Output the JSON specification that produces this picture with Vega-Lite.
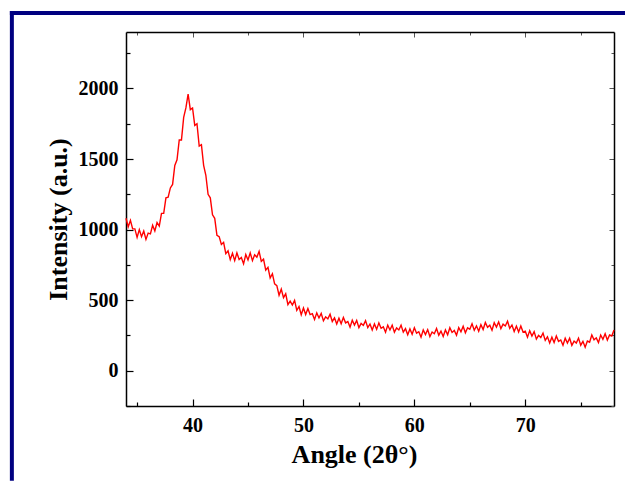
{
  "$schema": "https://vega.github.io/schema/vega-lite/v6.json",
  "width": 488,
  "height": 374,
  "autosize": {"type": "none"},
  "padding": {"left": 126, "top": 32, "right": 11, "bottom": 75},
  "background": "white",
  "config": {"view": {"stroke": null}, "font": "Liberation Serif"},
  "data": {"values": [
    {"angle": 34.0, "intensity": 1080}, {"angle": 34.2, "intensity": 1020}, {"angle": 34.4, "intensity": 1065}, {"angle": 34.6, "intensity": 1005},
    {"angle": 34.8, "intensity": 1005}, {"angle": 35.0, "intensity": 945}, {"angle": 35.2, "intensity": 1000}, {"angle": 35.4, "intensity": 950},
    {"angle": 35.6, "intensity": 990}, {"angle": 35.8, "intensity": 930}, {"angle": 36.0, "intensity": 975}, {"angle": 36.2, "intensity": 970},
    {"angle": 36.4, "intensity": 1030}, {"angle": 36.6, "intensity": 990}, {"angle": 36.8, "intensity": 1050}, {"angle": 37.0, "intensity": 1025},
    {"angle": 37.2, "intensity": 1115}, {"angle": 37.4, "intensity": 1115}, {"angle": 37.6, "intensity": 1225}, {"angle": 37.8, "intensity": 1230},
    {"angle": 38.0, "intensity": 1295}, {"angle": 38.2, "intensity": 1320}, {"angle": 38.4, "intensity": 1455}, {"angle": 38.6, "intensity": 1495},
    {"angle": 38.8, "intensity": 1635}, {"angle": 39.0, "intensity": 1635}, {"angle": 39.2, "intensity": 1795}, {"angle": 39.4, "intensity": 1862},
    {"angle": 39.6, "intensity": 1960}, {"angle": 39.8, "intensity": 1850}, {"angle": 40.0, "intensity": 1862}, {"angle": 40.2, "intensity": 1738},
    {"angle": 40.4, "intensity": 1750}, {"angle": 40.6, "intensity": 1592}, {"angle": 40.8, "intensity": 1602}, {"angle": 41.0, "intensity": 1455},
    {"angle": 41.2, "intensity": 1385}, {"angle": 41.4, "intensity": 1250}, {"angle": 41.6, "intensity": 1225}, {"angle": 41.8, "intensity": 1105},
    {"angle": 42.0, "intensity": 1080}, {"angle": 42.2, "intensity": 960}, {"angle": 42.4, "intensity": 950}, {"angle": 42.6, "intensity": 895},
    {"angle": 42.8, "intensity": 910}, {"angle": 43.0, "intensity": 830}, {"angle": 43.2, "intensity": 850}, {"angle": 43.4, "intensity": 787},
    {"angle": 43.6, "intensity": 832}, {"angle": 43.8, "intensity": 780}, {"angle": 44.0, "intensity": 835}, {"angle": 44.2, "intensity": 788},
    {"angle": 44.4, "intensity": 802}, {"angle": 44.6, "intensity": 757}, {"angle": 44.8, "intensity": 823}, {"angle": 45.0, "intensity": 785},
    {"angle": 45.2, "intensity": 835}, {"angle": 45.4, "intensity": 780}, {"angle": 45.6, "intensity": 822}, {"angle": 45.8, "intensity": 805},
    {"angle": 46.0, "intensity": 845}, {"angle": 46.2, "intensity": 775}, {"angle": 46.4, "intensity": 790}, {"angle": 46.6, "intensity": 713},
    {"angle": 46.8, "intensity": 732}, {"angle": 47.0, "intensity": 657}, {"angle": 47.2, "intensity": 687}, {"angle": 47.4, "intensity": 615},
    {"angle": 47.6, "intensity": 603}, {"angle": 47.8, "intensity": 535}, {"angle": 48.0, "intensity": 578}, {"angle": 48.2, "intensity": 518},
    {"angle": 48.4, "intensity": 545}, {"angle": 48.6, "intensity": 468}, {"angle": 48.8, "intensity": 493}, {"angle": 49.0, "intensity": 465},
    {"angle": 49.2, "intensity": 498}, {"angle": 49.4, "intensity": 428}, {"angle": 49.6, "intensity": 455}, {"angle": 49.8, "intensity": 397},
    {"angle": 50.0, "intensity": 445}, {"angle": 50.2, "intensity": 398}, {"angle": 50.4, "intensity": 440}, {"angle": 50.6, "intensity": 398},
    {"angle": 50.8, "intensity": 404}, {"angle": 51.0, "intensity": 363}, {"angle": 51.2, "intensity": 410}, {"angle": 51.4, "intensity": 374},
    {"angle": 51.6, "intensity": 406}, {"angle": 51.8, "intensity": 354}, {"angle": 52.0, "intensity": 382}, {"angle": 52.2, "intensity": 367},
    {"angle": 52.4, "intensity": 400}, {"angle": 52.6, "intensity": 349}, {"angle": 52.8, "intensity": 374}, {"angle": 53.0, "intensity": 331},
    {"angle": 53.2, "intensity": 372}, {"angle": 53.4, "intensity": 333}, {"angle": 53.6, "intensity": 378}, {"angle": 53.8, "intensity": 339},
    {"angle": 54.0, "intensity": 348}, {"angle": 54.2, "intensity": 309}, {"angle": 54.4, "intensity": 358}, {"angle": 54.6, "intensity": 323},
    {"angle": 54.8, "intensity": 356}, {"angle": 55.0, "intensity": 305}, {"angle": 55.2, "intensity": 335}, {"angle": 55.4, "intensity": 321},
    {"angle": 55.6, "intensity": 355}, {"angle": 55.8, "intensity": 305}, {"angle": 56.0, "intensity": 331}, {"angle": 56.2, "intensity": 289},
    {"angle": 56.4, "intensity": 331}, {"angle": 56.6, "intensity": 293}, {"angle": 56.8, "intensity": 339}, {"angle": 57.0, "intensity": 301},
    {"angle": 57.2, "intensity": 311}, {"angle": 57.4, "intensity": 273}, {"angle": 57.6, "intensity": 323}, {"angle": 57.8, "intensity": 289},
    {"angle": 58.0, "intensity": 323}, {"angle": 58.2, "intensity": 273}, {"angle": 58.4, "intensity": 303}, {"angle": 58.6, "intensity": 289},
    {"angle": 58.8, "intensity": 323}, {"angle": 59.0, "intensity": 273}, {"angle": 59.2, "intensity": 298}, {"angle": 59.4, "intensity": 255},
    {"angle": 59.6, "intensity": 296}, {"angle": 59.8, "intensity": 258}, {"angle": 60.0, "intensity": 304}, {"angle": 60.2, "intensity": 266},
    {"angle": 60.4, "intensity": 276}, {"angle": 60.6, "intensity": 238}, {"angle": 60.8, "intensity": 289}, {"angle": 61.0, "intensity": 256},
    {"angle": 61.2, "intensity": 291}, {"angle": 61.4, "intensity": 242}, {"angle": 61.6, "intensity": 274}, {"angle": 61.8, "intensity": 262},
    {"angle": 62.0, "intensity": 299}, {"angle": 62.2, "intensity": 252}, {"angle": 62.4, "intensity": 281}, {"angle": 62.6, "intensity": 243},
    {"angle": 62.8, "intensity": 289}, {"angle": 63.0, "intensity": 255}, {"angle": 63.2, "intensity": 305}, {"angle": 63.4, "intensity": 271},
    {"angle": 63.6, "intensity": 285}, {"angle": 63.8, "intensity": 251}, {"angle": 64.0, "intensity": 306}, {"angle": 64.2, "intensity": 276},
    {"angle": 64.4, "intensity": 315}, {"angle": 64.6, "intensity": 269}, {"angle": 64.8, "intensity": 304}, {"angle": 65.0, "intensity": 294},
    {"angle": 65.2, "intensity": 333}, {"angle": 65.4, "intensity": 287}, {"angle": 65.6, "intensity": 318}, {"angle": 65.8, "intensity": 280},
    {"angle": 66.0, "intensity": 326}, {"angle": 66.2, "intensity": 292}, {"angle": 66.4, "intensity": 342}, {"angle": 66.6, "intensity": 308},
    {"angle": 66.8, "intensity": 322}, {"angle": 67.0, "intensity": 287}, {"angle": 67.2, "intensity": 340}, {"angle": 67.4, "intensity": 309},
    {"angle": 67.6, "intensity": 346}, {"angle": 67.8, "intensity": 298}, {"angle": 68.0, "intensity": 330}, {"angle": 68.2, "intensity": 317},
    {"angle": 68.4, "intensity": 351}, {"angle": 68.6, "intensity": 300}, {"angle": 68.8, "intensity": 324}, {"angle": 69.0, "intensity": 278},
    {"angle": 69.2, "intensity": 316}, {"angle": 69.4, "intensity": 274}, {"angle": 69.6, "intensity": 316}, {"angle": 69.8, "intensity": 274},
    {"angle": 70.0, "intensity": 280}, {"angle": 70.2, "intensity": 238}, {"angle": 70.4, "intensity": 284}, {"angle": 70.6, "intensity": 246},
    {"angle": 70.8, "intensity": 277}, {"angle": 71.0, "intensity": 224}, {"angle": 71.2, "intensity": 251}, {"angle": 71.4, "intensity": 235},
    {"angle": 71.6, "intensity": 267}, {"angle": 71.8, "intensity": 215}, {"angle": 72.0, "intensity": 240}, {"angle": 72.2, "intensity": 197},
    {"angle": 72.4, "intensity": 238}, {"angle": 72.6, "intensity": 200}, {"angle": 72.8, "intensity": 246}, {"angle": 73.0, "intensity": 208},
    {"angle": 73.2, "intensity": 218}, {"angle": 73.4, "intensity": 180}, {"angle": 73.6, "intensity": 230}, {"angle": 73.8, "intensity": 196},
    {"angle": 74.0, "intensity": 230}, {"angle": 74.2, "intensity": 180}, {"angle": 74.4, "intensity": 210}, {"angle": 74.6, "intensity": 196},
    {"angle": 74.8, "intensity": 231}, {"angle": 75.0, "intensity": 181}, {"angle": 75.2, "intensity": 208}, {"angle": 75.4, "intensity": 167},
    {"angle": 75.6, "intensity": 210}, {"angle": 75.8, "intensity": 202}, {"angle": 76.0, "intensity": 253}, {"angle": 76.2, "intensity": 219},
    {"angle": 76.4, "intensity": 233}, {"angle": 76.6, "intensity": 199}, {"angle": 76.8, "intensity": 253}, {"angle": 77.0, "intensity": 223},
    {"angle": 77.2, "intensity": 262}, {"angle": 77.4, "intensity": 217}, {"angle": 77.6, "intensity": 253}, {"angle": 77.8, "intensity": 246},
    {"angle": 78.0, "intensity": 288}
  ]},
  "layer": [
    {
      "data": {"values": [{}]},
      "mark": {"type": "rect", "color": "#000080", "clip": false},
      "encoding": {
        "x": {"datum": 23.53, "type": "quantitative", "scale": {"domain": [34, 78], "nice": false, "zero": false}, "axis": null},
        "x2": {"datum": 23.89},
        "y": {"datum": -780, "type": "quantitative", "scale": {"domain": [-250, 2400], "nice": false, "zero": false}, "axis": null},
        "y2": {"datum": 2548}
      }
    },
    {
      "data": {"values": [{}]},
      "mark": {"type": "rect", "color": "#000080", "clip": false},
      "encoding": {
        "x": {"datum": 23.53, "type": "quantitative", "scale": {"domain": [34, 78], "nice": false, "zero": false}, "axis": null},
        "x2": {"datum": 80},
        "y": {"datum": 2520, "type": "quantitative", "scale": {"domain": [-250, 2400], "nice": false, "zero": false}, "axis": null},
        "y2": {"datum": 2548}
      }
    },
    {
      "mark": {"type": "line", "color": "#ff0000", "strokeWidth": 1.4},
      "encoding": {
        "x": {
          "field": "angle", "type": "quantitative",
          "scale": {"domain": [34, 78], "nice": false, "zero": false},
          "axis": {
            "orient": "bottom",
            "values": [35, 40, 45, 50, 55, 60, 65, 70, 75],
            "labelExpr": "datum.value % 10 === 0 ? datum.label : ''",
            "tickSize": {"condition": {"test": "datum.value % 10 === 0", "value": -7}, "value": -4},
            "grid": false,
            "domainColor": "black", "domainWidth": 1.5,
            "tickColor": "black", "tickWidth": 1.2,
            "labelFont": "Liberation Serif", "labelFontWeight": "bold", "labelFontSize": 20, "labelColor": "black",
            "labelPadding": 16,
            "title": "Angle (2θ°)",
            "titleFont": "Liberation Serif", "titleFontWeight": "bold", "titleFontSize": 26, "titleColor": "black",
            "titleX": 228, "titleY": 56, "titleBaseline": "alphabetic", "titleAlign": "center"
          }
        },
        "y": {
          "field": "intensity", "type": "quantitative",
          "scale": {"domain": [-250, 2400], "nice": false, "zero": false},
          "axis": {
            "orient": "left",
            "values": [-250, 0, 250, 500, 750, 1000, 1250, 1500, 1750, 2000, 2250],
            "format": "d",
            "labelExpr": "datum.value % 500 === 0 ? datum.label : ''",
            "tickSize": {"condition": {"test": "datum.value % 500 === 0", "value": -7}, "value": -4},
            "grid": false,
            "domainColor": "black", "domainWidth": 1.5,
            "tickColor": "black", "tickWidth": 1.2,
            "labelFont": "Liberation Serif", "labelFontWeight": "bold", "labelFontSize": 20, "labelColor": "black",
            "labelPadding": 15,
            "title": "Intensity (a.u.)",
            "titleFont": "Liberation Serif", "titleFontWeight": "bold", "titleFontSize": 26, "titleColor": "black",
            "titleX": -60, "titleY": 187, "titleAngle": -90, "titleBaseline": "alphabetic", "titleAlign": "center"
          }
        }
      }
    },
    {
      "mark": {"type": "line", "strokeOpacity": 0},
      "encoding": {
        "x": {
          "field": "angle", "type": "quantitative",
          "scale": {"domain": [34, 78], "nice": false, "zero": false},
          "axis": {
            "orient": "top",
            "values": [35, 40, 45, 50, 55, 60, 65, 70, 75],
            "labels": false,
            "tickSize": {"condition": {"test": "datum.value % 10 === 0", "value": -5}, "value": -3},
            "grid": false, "title": null,
            "domainColor": "black", "domainWidth": 1.5,
            "tickColor": "#555555", "tickWidth": 1
          }
        },
        "y": {
          "field": "intensity", "type": "quantitative",
          "scale": {"domain": [-250, 2400], "nice": false, "zero": false},
          "axis": {
            "orient": "right",
            "values": [-250, 0, 250, 500, 750, 1000, 1250, 1500, 1750, 2000, 2250],
            "labels": false,
            "tickSize": {"condition": {"test": "datum.value % 500 === 0", "value": -5}, "value": -3},
            "grid": false, "title": null,
            "domainColor": "black", "domainWidth": 1.5,
            "tickColor": "#555555", "tickWidth": 1
          }
        }
      }
    }
  ],
  "resolve": {"axis": {"x": "independent", "y": "independent"}}
}
